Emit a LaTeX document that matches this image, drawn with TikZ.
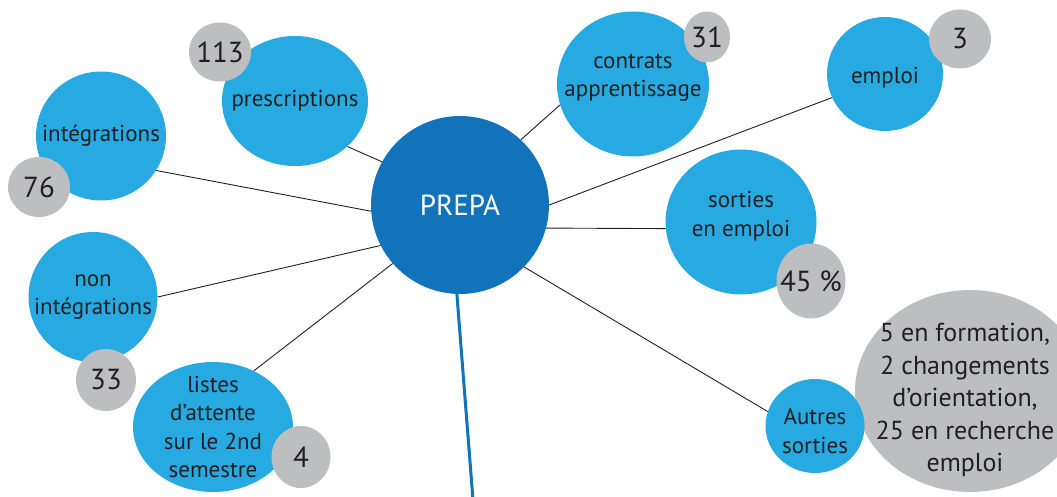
\documentclass[tikz,border=0pt]{standalone}
\usepackage{fontspec}
\setmainfont{PT Sans}
\usepackage{xcolor}
\usepackage{tikz}
\usetikzlibrary{shapes.geometric}
\definecolor{skyblue}{HTML}{27AAE1}
\definecolor{hubblue}{HTML}{1273BA}
\definecolor{countgray}{HTML}{BCBEC0}
\definecolor{ink}{HTML}{231F20}
\tikzset{
	dims/.style 2 args={minimum width=#1pt,minimum height=#2pt},
	bubble/.style={ellipse,fill=skyblue,inner sep=0pt},
	count/.style={ellipse,fill=countgray,inner sep=0pt},
	hub node/.style={circle,fill=hubblue,inner sep=0pt,minimum size=178pt,
		text=white,font=\fontsize{29}{32}\selectfont},
	every label/.style={text=ink,align=center,font=\fontsize{23}{28.5}\selectfont},
	count text/.style={font=\fontsize{29}{32}\selectfont},
	note text/.style={font=\fontsize{26}{32.5}\selectfont},
	link/.style={draw=ink,line width=0.9pt},
	spine/.style={draw=hubblue,line width=3pt}
}

\begin{document}
\begin{tikzpicture}[x=1pt,y=-1pt]
	\useasboundingbox (0,0) rectangle (1057,497);
	\node [hub node] (prepa) at (460,205) {PREPA};
	\node [bubble,dims={146}{130},label={center:prescriptions}] (presc) at (295,101) {};
	\node [bubble,dims={130}{129},label={center:intégrations}] (integ) at (101,136) {};
	\node [bubble,dims={129}{130},label={center:non\\intégrations}] (nonint) at (93,297) {};
	\node [bubble,dims={160}{130},label={center:listes\\d’attente\\sur le 2nd\\semestre}] (listes) at (213,427) {};
	\node [bubble,dims={152}{145},label={[yshift=6pt]center:contrats\\apprentissage}] (contrats) at (633,84) {};
	\node [bubble,dims={116}{114},label={[yshift=-4pt]center:emploi}] (emploi) at (885,74) {};
	\node [bubble,dims={151}{145},label={[yshift=6pt]center:sorties\\en emploi}] (sorties) at (741,222) {};
	\node [count,dims={62}{59},label={[count text]center:113}] (n113) at (220,52) {};
	\node [count,dims={62}{60},label={[count text]center:76}] (n76) at (39,187) {};
	\node [count,dims={60}{62},label={[count text]center:33}] (n33) at (106,380) {};
	\node [count,dims={59}{62},label={[count text]center:4}] (n4) at (301,457) {};
	\node [count,dims={46}{51},label={[count text]center:31}] (n31) at (707,37) {};
	\node [count,dims={62}{59},label={[count text]center:3}] (n3) at (960,39) {};
	\node [count,dims={69}{75},label={[count text]center:45 \%}] (n45) at (811,281) {};
	\node [count,dims={230}{202},label={[note text,xshift=-5pt,yshift=-9pt]center:5 en formation,\\2 changements\\d’orientation,\\25 en recherche\\emploi}] (rest) at (970,391) {};
	\node [bubble,dims={99}{94},label={[yshift=-5pt]center:Autres\\sorties}] (autres) at (815,426) {};
	\draw [link] (prepa.151) -- (presc.-41);
	\draw [link] (prepa.184) -- (integ.-32);
	\draw [link] (prepa.207) -- (nonint.0);
	\draw [link] (prepa.221) -- (listes.54);
	\draw [link] (prepa.47) -- (contrats.196);
	\draw [link] (prepa.0) -- (emploi.204);
	\draw [link] (prepa.-15) -- (sorties.185);
	\draw [link] (prepa.-44) -- (autres.163);
	\coordinate (tail) at (473,500);
	\draw [spine] (prepa.-92) -- (tail);
\end{tikzpicture}
\end{document}
